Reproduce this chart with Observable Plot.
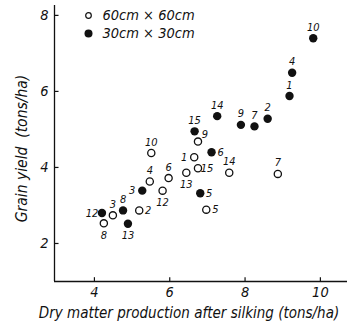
<!DOCTYPE html>
<html>
<head>
<meta charset="utf-8">
<script src="https://cdn.jsdelivr.net/npm/d3@7"></script>
<script src="https://cdn.jsdelivr.net/npm/@observablehq/plot@0.6"></script>
<style>
  html, body { margin: 0; padding: 0; background: #fff; }
  #chart { position: relative; width: 355px; height: 330px; }
</style>
</head>
<body>
<div id="chart"></div>
<script>
// ---- data ----
const xTicks = [4, 6, 8, 10];
const yTicks = [2, 4, 6, 8];
const seriesNames = ["60cm × 60cm", "30cm × 30cm"];

// 60cm x 60cm (open circles)
const openIds = ["8", "3", "2", "4", "10", "12", "6", "13", "9", "1", "15", "5", "14", "7"];
const openX   = [4.25, 4.49, 5.19, 5.47, 5.51, 5.81, 5.97, 6.44, 6.75, 6.65, 6.75, 6.97, 7.58, 8.87];
const openY   = [2.53, 2.74, 2.87, 3.63, 4.38, 3.39, 3.72, 3.86, 4.68, 4.27, 3.98, 2.89, 3.86, 3.83];

// 30cm x 30cm (filled circles)
const filledIds = ["12", "8", "13", "3", "15", "5", "6", "14", "9", "7", "2", "1", "4", "10"];
const filledX   = [4.20, 4.76, 4.89, 5.27, 6.66, 6.81, 7.11, 7.26, 7.89, 8.25, 8.60, 9.18, 9.25, 9.81];
const filledY   = [2.80, 2.87, 2.52, 3.39, 4.95, 3.32, 4.40, 5.35, 5.12, 5.08, 5.28, 5.88, 6.49, 7.40];

// ---- label placement (layout) ----
const openPlace   = ["s", "n", "e", "n", "n", "s", "n", "s", "ne", "w", "e", "e", "n", "n"];
const filledPlace = ["w", "n", "s", "w", "n", "e", "e", "n", "n", "n", "n", "n", "n", "n"];
const offsets = { n: [0, -11], s: [0, 12], e: [9, 0], w: [-10, 0], ne: [7, -7] };

const open = openIds.map((id, i) => ({ id, x: openX[i], y: openY[i], place: openPlace[i] }));
const filled = filledIds.map((id, i) => ({ id, x: filledX[i], y: filledY[i], place: filledPlace[i] }));

const xDomain = [2.94, 10.72];
const yDomain = [1.0, 8.26];

const FONT = "'DejaVu Sans Condensed', 'Liberation Sans Narrow', 'Liberation Sans', sans-serif";

function labelMarks(data) {
  return Object.keys(offsets).map(p => Plot.text(data.filter(d => d.place === p), {
    x: "x", y: "y", text: "id", dx: offsets[p][0], dy: offsets[p][1],
    fontSize: 11, fontStyle: "italic", fill: "#111"
  }));
}

const chart = Plot.plot({
  width: 355,
  height: 330,
  marginLeft: 54,
  marginRight: 8,
  marginTop: 5,
  marginBottom: 49,
  style: { fontFamily: FONT, fontStyle: "italic", fontSize: "14px", color: "#111", background: "#fff" },
  x: { domain: xDomain, label: null },
  y: { domain: yDomain, label: null },
  marks: [
    // axis lines
    Plot.ruleY([yDomain[0]], { stroke: "#111", strokeWidth: 1.3 }),
    Plot.ruleX([xDomain[0]], { stroke: "#111", strokeWidth: 1.3 }),
    // inward ticks
    Plot.ruleX(xTicks, { x: d => d, y1: yDomain[0], y2: yDomain[0] + 0.1, stroke: "#111", strokeWidth: 1.2 }),
    Plot.ruleY(yTicks, { y: d => d, x1: xDomain[0], x2: xDomain[0] + 0.12, stroke: "#111", strokeWidth: 1.2 }),
    // tick labels
    Plot.axisX(xTicks, { tickSize: 0, tickPadding: 5, fontSize: 14.5, label: null }),
    Plot.axisY(yTicks, { tickSize: 0, tickPadding: 6, fontSize: 14.5, label: null }),
    // axis titles
    Plot.text(["Dry matter production after silking (tons/ha)"], {
      frameAnchor: "bottom", lineAnchor: "middle", textAnchor: "middle", dx: -12, dy: 32,
      text: d => d, fontSize: 15, fontStyle: "italic", fill: "#111"
    }),
    Plot.text(["Grain yield\u00a0\u00a0(tons/ha)"], {
      frameAnchor: "left", lineAnchor: "middle", textAnchor: "middle", dx: -32, dy: 5, rotate: -90,
      text: d => d, fontSize: 15.5, fontStyle: "italic", fill: "#111"
    }),
    // points
    Plot.dot(open, { x: "x", y: "y", r: 3.6, stroke: "#111", strokeWidth: 1.3, fill: "#fff" }),
    Plot.dot(filled, { x: "x", y: "y", r: 4.2, fill: "#111", stroke: "none" }),
    ...labelMarks(open),
    ...labelMarks(filled),
    // legend
    Plot.dot([seriesNames[0]], { frameAnchor: "top-left", dx: 34, dy: 10, r: 2.8, stroke: "#111", strokeWidth: 1.2, fill: "#fff" }),
    Plot.dot([seriesNames[1]], { frameAnchor: "top-left", dx: 34, dy: 28, r: 4, fill: "#111" }),
    Plot.text([seriesNames[0]], { frameAnchor: "top-left", lineAnchor: "middle", dx: 48, dy: 10, text: d => d, textAnchor: "start", fontSize: 14.5, fontStyle: "italic", fill: "#111" }),
    Plot.text([seriesNames[1]], { frameAnchor: "top-left", lineAnchor: "middle", dx: 48, dy: 28, text: d => d, textAnchor: "start", fontSize: 14.5, fontStyle: "italic", fill: "#111" })
  ]
});

document.getElementById("chart").appendChild(chart);
</script>
</body>
</html>
